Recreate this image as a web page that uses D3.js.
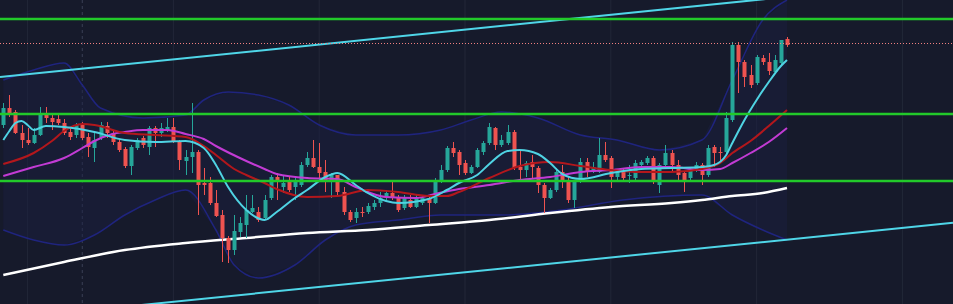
<!DOCTYPE html>
<html>
<head>
<meta charset="utf-8">
<script src="https://cdn.jsdelivr.net/npm/d3@7"></script>
<style>
  body { margin: 0; background: #161a2b; overflow: hidden; }
</style>
</head>
<body>
<script>
// candles, one per bar (index 0..129)
var opens = [2.75,2.92,2.88,2.67,2.60,2.57,2.65,2.87,2.82,2.81,
  2.77,2.68,2.65,2.75,2.63,2.52,2.62,2.74,2.67,2.58,
  2.51,2.34,2.52,2.62,2.53,2.72,2.67,2.70,2.73,2.58,
  2.39,2.43,2.48,2.17,2.17,1.97,1.85,1.62,1.50,1.68,
  1.75,1.88,1.88,1.82,2.02,2.23,2.13,2.19,2.13,2.15,
  2.35,2.42,2.33,2.28,2.18,2.25,2.08,1.88,1.82,1.88,
  1.88,1.93,1.97,2.02,2.07,2.03,1.92,2.00,1.93,1.97,
  2.02,1.97,2.18,2.30,2.52,2.48,2.37,2.27,2.33,2.48,
  2.57,2.72,2.55,2.57,2.68,2.33,2.30,2.38,2.32,2.15,
  2.02,2.10,2.28,2.20,2.00,2.18,2.38,2.28,2.28,2.45,
  2.42,2.23,2.28,2.24,2.22,2.35,2.37,2.42,2.15,2.35,
  2.47,2.35,2.27,2.22,2.30,2.35,2.25,2.53,2.48,2.48,
  2.80,3.55,3.38,3.25,3.17,3.42,3.38,3.28,3.37,3.61];
var highs = [2.97,3.05,2.90,2.75,2.72,2.72,2.93,2.93,2.87,2.87,
  2.81,2.73,2.77,2.78,2.67,2.67,2.78,2.78,2.70,2.61,
  2.53,2.55,2.62,2.64,2.74,2.74,2.77,2.82,2.82,2.60,
  2.50,2.97,2.50,2.32,2.23,2.10,1.90,1.64,1.85,1.83,
  2.05,2.05,1.93,2.05,2.25,2.27,2.25,2.23,2.22,2.38,
  2.48,2.60,2.57,2.40,2.27,2.25,2.13,1.90,1.92,1.93,
  1.97,2.00,2.08,2.10,2.20,2.05,2.05,2.05,2.05,2.05,
  2.05,2.22,2.35,2.54,2.58,2.50,2.40,2.35,2.52,2.59,
  2.77,2.73,2.65,2.75,2.70,2.50,2.39,2.45,2.34,2.17,
  2.12,2.32,2.35,2.23,2.20,2.42,2.42,2.38,2.62,2.58,
  2.44,2.30,2.32,2.35,2.40,2.40,2.44,2.44,2.37,2.55,
  2.50,2.40,2.29,2.32,2.38,2.37,2.55,2.55,2.53,2.88,
  3.58,3.58,3.40,3.35,3.45,3.45,3.47,3.45,3.60,3.63];
var lows = [2.72,2.83,2.66,2.52,2.55,2.56,2.64,2.77,2.70,2.75,
  2.65,2.60,2.62,2.60,2.43,2.38,2.60,2.62,2.55,2.48,
  2.32,2.25,2.50,2.52,2.45,2.53,2.63,2.68,2.57,2.30,
  2.25,2.27,1.85,2.05,1.95,1.83,1.38,1.37,1.45,1.63,
  1.62,1.87,1.78,1.80,2.00,2.00,2.07,2.08,2.00,2.13,
  2.33,2.32,2.22,2.08,2.02,2.05,1.85,1.78,1.77,1.83,
  1.86,1.90,1.93,2.00,2.00,1.88,1.90,1.92,1.92,1.95,
  1.77,1.96,2.17,2.28,2.43,2.25,2.25,2.26,2.32,2.45,
  2.55,2.50,2.53,2.55,2.30,2.20,2.23,2.22,2.07,1.87,
  2.01,2.08,2.12,1.97,1.92,2.17,2.23,2.27,2.27,2.38,
  2.12,2.20,2.20,2.17,2.20,2.34,2.35,2.16,2.07,2.33,
  2.28,2.20,2.08,2.20,2.28,2.15,2.23,2.33,2.37,2.46,
  2.78,3.07,3.13,3.12,3.15,3.35,3.25,3.27,3.35,3.53];
var closes = [2.92,2.85,2.67,2.60,2.57,2.65,2.85,2.82,2.78,2.77,
  2.67,2.63,2.75,2.62,2.53,2.60,2.75,2.67,2.58,2.50,
  2.34,2.53,2.60,2.55,2.72,2.67,2.72,2.73,2.58,2.40,
  2.43,2.48,2.15,2.15,1.97,1.84,1.62,1.50,1.69,1.77,
  1.90,1.92,1.80,2.00,2.23,2.18,2.17,2.10,2.18,2.35,
  2.42,2.33,2.27,2.18,2.26,2.08,1.88,1.80,1.88,1.87,
  1.94,1.97,2.02,2.07,2.03,1.90,2.02,1.93,2.02,2.02,
  1.97,2.18,2.30,2.52,2.47,2.35,2.27,2.33,2.50,2.57,
  2.73,2.55,2.60,2.68,2.32,2.30,2.37,2.33,2.15,2.02,
  2.10,2.28,2.20,2.00,2.18,2.38,2.28,2.33,2.45,2.40,
  2.23,2.28,2.22,2.25,2.37,2.38,2.42,2.18,2.35,2.47,
  2.35,2.25,2.20,2.30,2.35,2.25,2.52,2.47,2.47,2.82,
  3.55,3.38,3.23,3.15,3.43,3.38,3.29,3.40,3.60,3.55];

// overlay studies: [bar index, price]
var fastMA = [[0,2.60],[1,2.69],[2,2.77],[3,2.79],[4,2.75],[5,2.70],[7,2.74],[10,2.73],[15,2.68],[20,2.60],
  [25,2.58],[30,2.59],[33,2.52],[35,2.35],[37,2.13],[40,1.90],[43,1.80],[45,1.88],[48,2.02],[50,2.10],
  [53,2.23],[55,2.27],[58,2.15],[60,2.07],[63,1.99],[65,1.97],[70,2.01],[73,2.10],[75,2.17],[78,2.25],
  [80,2.36],[83,2.49],[85,2.50],[88,2.46],[90,2.37],[92,2.26],[95,2.21],[100,2.27],[105,2.31],[110,2.32],
  [115,2.33],[117,2.35],[119,2.45],[120,2.57],[122,2.80],[124,3.00],[126,3.18],[128,3.34],[129,3.40]];
var midMA = [[0,2.36],[5,2.47],[8,2.59],[10,2.69],[13,2.76],[15,2.75],[20,2.67],[25,2.65],[30,2.63],[33,2.54],
  [35,2.45],[38,2.31],[40,2.25],[43,2.17],[45,2.11],[50,2.03],[55,2.04],[60,2.10],[65,2.08],[70,2.04],
  [73,2.04],[75,2.08],[80,2.22],[85,2.34],[90,2.38],[95,2.34],[100,2.30],[105,2.28],[110,2.28],[115,2.31],
  [118,2.37],[120,2.47],[123,2.59],[126,2.74],[129,2.90]];
var slowMA = [[0,2.24],[5,2.33],[10,2.42],[13,2.52],[15,2.59],[18,2.66],[20,2.68],[23,2.70],[27,2.70],[30,2.66],
  [33,2.61],[35,2.54],[40,2.39],[43,2.31],[45,2.26],[50,2.22],[55,2.21],[58,2.13],[63,2.03],[68,2.02],
  [71,2.06],[75,2.11],[80,2.15],[85,2.20],[90,2.23],[95,2.28],[100,2.30],[105,2.33],[110,2.33],[115,2.30],
  [118,2.31],[120,2.37],[123,2.47],[126,2.58],[129,2.72]];
var longMA = [[0,1.25],[10,1.38],[20,1.50],[30,1.57],[40,1.62],[50,1.67],[60,1.70],[70,1.75],[80,1.80],
  [90,1.87],[100,1.93],[110,1.97],[115,2.00],[120,2.04],[125,2.07],[129,2.12]];
var bandUpper = [[0,3.20],[5,3.30],[10,3.37],[13,3.15],[16,2.92],[23,2.82],[30,2.85],[33,3.00],[37,3.08],[42,3.05],
  [47,2.95],[52,2.75],[58,2.65],[65,2.65],[72,2.70],[77,2.80],[82,2.88],[88,2.82],[95,2.65],[101,2.60],
  [108,2.50],[115,2.60],[120,3.20],[125,3.80],[129,4.00]];
var bandLower = [[0,1.70],[5,1.60],[10,1.55],[15,1.65],[20,1.85],[25,2.00],[30,2.10],[35,1.70],[38,1.35],[42,1.22],
  [48,1.35],[53,1.60],[58,1.75],[65,1.80],[72,1.85],[82,1.85],[92,1.90],[102,2.00],[115,2.05],[120,1.85],
  [125,1.70],[129,1.60]];

// drawn levels
var levels = [3.81, 2.86, 2.19];
var lastPrice = 3.57;
var channelTop = [[0,3.233],[120,3.976]];
var channelBottom = [[0,0.81],[150,1.733]];

var width = 953, height = 304;

var svg = d3.select("body").append("svg").attr("width", width).attr("height", height);

var x = d3.scaleLinear().domain([0, 129]).range([3.3, 787]);   // bar index -> px
var y = d3.scaleLinear().domain([0.96, 4.00]).range([height, 0]); // price -> px

svg.append("rect").attr("width", width).attr("height", height).attr("fill", "#161a2b");

// faint vertical grid
svg.append("g").selectAll("line")
  .data([4, 28, 52, 76, 100, 124, 148])
  .enter().append("line")
    .attr("x1", function(d) { return x(d); }).attr("x2", function(d) { return x(d); })
    .attr("y1", 0).attr("y2", height)
    .attr("stroke", "#222738").attr("stroke-width", 1);

// dashed session line
svg.append("line")
  .attr("x1", x(13)).attr("x2", x(13)).attr("y1", 0).attr("y2", height)
  .attr("stroke", "#3a3f55").attr("stroke-dasharray", "3,3");

var line = d3.line()
  .x(function(d) { return x(d[0]); })
  .y(function(d) { return y(d[1]); })
  .curve(d3.curveMonotoneX);

// bollinger band fill + edges
var area = d3.area()
  .x(function(d) { return x(d[0]); })
  .y0(function(d) { return y(d[2]); })
  .y1(function(d) { return y(d[1]); })
  .curve(d3.curveMonotoneX);
var upperFn = d3.scaleLinear().domain(bandUpper.map(function(d) { return d[0]; })).range(bandUpper.map(function(d) { return d[1]; }));
var lowerFn = d3.scaleLinear().domain(bandLower.map(function(d) { return d[0]; })).range(bandLower.map(function(d) { return d[1]; }));
svg.append("path")
  .datum(d3.range(0, 130).map(function(i) { return [i, upperFn(i), lowerFn(i)]; }))
  .attr("d", area).attr("fill", "#1a1e42").attr("opacity", 0.45);
svg.append("path").datum(bandUpper).attr("d", line)
  .attr("fill", "none").attr("stroke", "#1f247e").attr("stroke-width", 1.5);
svg.append("path").datum(bandLower).attr("d", line)
  .attr("fill", "none").attr("stroke", "#1f247e").attr("stroke-width", 1.5);

// long moving average
svg.append("path").datum(longMA).attr("d", line)
  .attr("fill", "none").attr("stroke", "#ffffff").attr("stroke-width", 2.5);

// candles
var idx = d3.range(opens.length);
var candles = svg.append("g").selectAll("g").data(idx).enter().append("g");
candles.append("line")
  .attr("x1", function(i) { return Math.round(x(i)) + 0.5; })
  .attr("x2", function(i) { return Math.round(x(i)) + 0.5; })
  .attr("y1", function(i) { return y(highs[i]); })
  .attr("y2", function(i) { return y(lows[i]); })
  .attr("stroke", function(i) { return closes[i] >= opens[i] ? "#26a69a" : "#ef5350"; })
  .attr("stroke-width", 1);
candles.append("rect")
  .attr("x", function(i) { return Math.round(x(i)) - 1.5; })
  .attr("width", 4)
  .attr("y", function(i) { return y(Math.max(opens[i], closes[i])); })
  .attr("height", function(i) { return Math.max(1, Math.abs(y(opens[i]) - y(closes[i]))); })
  .attr("fill", function(i) { return closes[i] >= opens[i] ? "#26a69a" : "#ef5350"; });

// moving averages
svg.append("path").datum(slowMA).attr("d", line)
  .attr("fill", "none").attr("stroke", "#c23bd4").attr("stroke-width", 2);
svg.append("path").datum(midMA).attr("d", line)
  .attr("fill", "none").attr("stroke", "#b3171c").attr("stroke-width", 2);
svg.append("path").datum(fastMA).attr("d", line)
  .attr("fill", "none").attr("stroke", "#4fd3e3").attr("stroke-width", 2);

// trend channel, extended across the pane
function extend(pts) {
  var a = pts[0], b = pts[1];
  var k = (b[1] - a[1]) / (b[0] - a[0]);
  var i0 = x.invert(0), i1 = x.invert(width);
  return [[i0, a[1] + k * (i0 - a[0])], [i1, a[1] + k * (i1 - a[0])]];
}
var straight = d3.line().x(function(d) { return x(d[0]); }).y(function(d) { return y(d[1]); });
[channelTop, channelBottom].forEach(function(c) {
  svg.append("path").datum(extend(c)).attr("d", straight)
    .attr("fill", "none").attr("stroke", "#4fd6e8").attr("stroke-width", 2);
});

// horizontal levels
svg.append("g").selectAll("line").data(levels).enter().append("line")
  .attr("x1", 0).attr("x2", width)
  .attr("y1", function(d) { return y(d); }).attr("y2", function(d) { return y(d); })
  .attr("stroke", "#22c92a").attr("stroke-width", 2.5);

// last price line
svg.append("line")
  .attr("x1", 0).attr("x2", width)
  .attr("y1", Math.round(y(lastPrice)) + 0.5).attr("y2", Math.round(y(lastPrice)) + 0.5)
  .attr("stroke", "#f08080").attr("stroke-width", 1).attr("stroke-dasharray", "1,2");
</script>
</body>
</html>
